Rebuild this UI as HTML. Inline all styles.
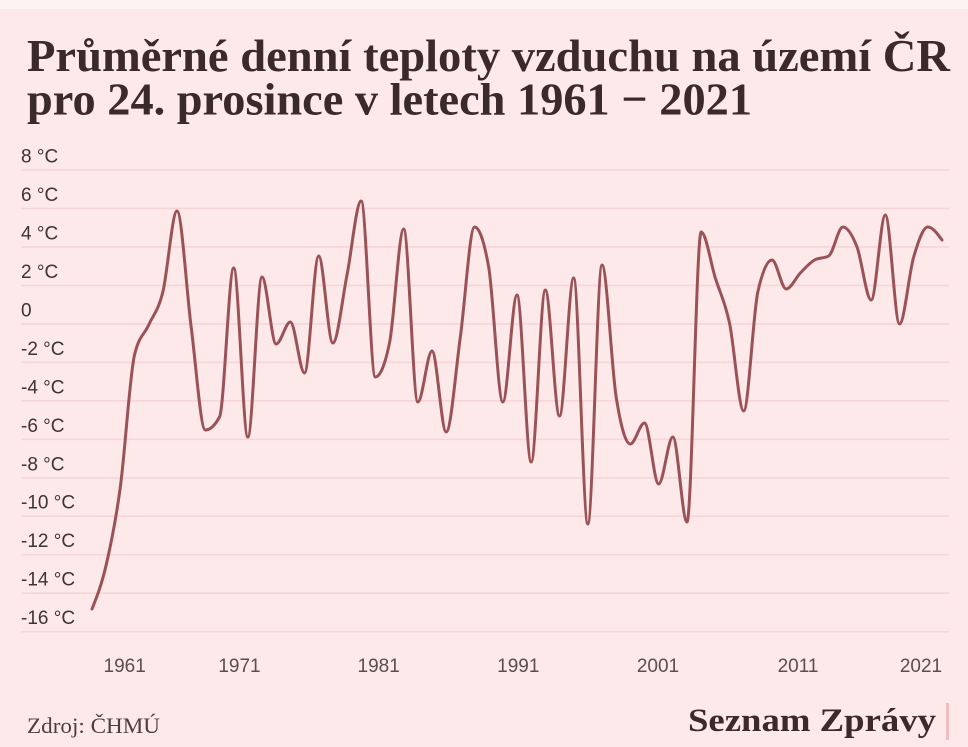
<!DOCTYPE html>
<html>
<head>
<meta charset="utf-8">
<style>
  html,body{margin:0;padding:0;width:968px;height:747px;overflow:hidden;background:#fde9ea;}
  svg{display:block;}
</style>
</head>
<body>
<svg id="chart" width="968" height="747" viewBox="0 0 968 747" xmlns="http://www.w3.org/2000/svg">
  <rect x="0" y="0" width="968" height="747" fill="#fde9ea"/>
  <rect x="0" y="0" width="968" height="9" fill="#fdf3f3"/>

  <!-- Title -->
  <text x="27" y="71" font-family="'Liberation Serif', serif" font-weight="bold" font-size="46" fill="#3a2a2b" textLength="923" lengthAdjust="spacingAndGlyphs">Průměrné denní teploty vzduchu na území ČR</text>
  <text x="27" y="114.5" font-family="'Liberation Serif', serif" font-weight="bold" font-size="46" fill="#3a2a2b" textLength="725" lengthAdjust="spacingAndGlyphs">pro 24. prosince v letech 1961 − 2021</text>

  <!-- Gridlines -->
  <g stroke="#f6d6d8" stroke-width="1.6">
    <line x1="21" x2="949" y1="170" y2="170"/>
    <line x1="21" x2="949" y1="208.5" y2="208.5"/>
    <line x1="21" x2="949" y1="246.9" y2="246.9"/>
    <line x1="21" x2="949" y1="285.4" y2="285.4"/>
    <line x1="21" x2="949" y1="323.9" y2="323.9"/>
    <line x1="21" x2="949" y1="362.3" y2="362.3"/>
    <line x1="21" x2="949" y1="400.8" y2="400.8"/>
    <line x1="21" x2="949" y1="439.3" y2="439.3"/>
    <line x1="21" x2="949" y1="477.8" y2="477.8"/>
    <line x1="21" x2="949" y1="516.2" y2="516.2"/>
    <line x1="21" x2="949" y1="554.7" y2="554.7"/>
    <line x1="21" x2="949" y1="593.2" y2="593.2"/>
    <line x1="21" x2="949" y1="631.7" y2="631.7"/>
  </g>

  <!-- Y labels -->
  <g font-family="'Liberation Sans', sans-serif" font-size="19" fill="#3d3435">
    <text x="21" y="162.5">8 °C</text>
    <text x="21" y="201">6 °C</text>
    <text x="21" y="239.4">4 °C</text>
    <text x="21" y="277.9">2 °C</text>
    <text x="21" y="316.4">0</text>
    <text x="21" y="354.8">-2 °C</text>
    <text x="21" y="393.3">-4 °C</text>
    <text x="21" y="431.8">-6 °C</text>
    <text x="21" y="470.3">-8 °C</text>
    <text x="21" y="508.7">-10 °C</text>
    <text x="21" y="547.2">-12 °C</text>
    <text x="21" y="585.7">-14 °C</text>
    <text x="21" y="624.2">-16 °C</text>
  </g>

  <!-- X labels -->
  <g font-family="'Liberation Sans', sans-serif" font-size="19" fill="#594e50" text-anchor="middle">
    <text x="124.7" y="672">1961</text>
    <text x="239.5" y="672">1971</text>
    <text x="378.7" y="672">1981</text>
    <text x="518.3" y="672">1991</text>
    <text x="658" y="672">2001</text>
    <text x="798" y="672">2011</text>
    <text x="921" y="672">2021</text>
  </g>

  <!-- Data line -->
  <path id="line" d="" fill="none" stroke="#9b5257" stroke-width="3" stroke-linejoin="round" stroke-linecap="round"/>

  <!-- Footer -->
  <text x="27" y="733" font-family="'Liberation Serif', serif" font-size="22" fill="#4a4041" textLength="133" lengthAdjust="spacingAndGlyphs">Zdroj: ČHMÚ</text>
  <text x="688" y="731" font-family="'Liberation Serif', serif" font-weight="bold" font-size="33" fill="#3a2a2b" textLength="248" lengthAdjust="spacingAndGlyphs">Seznam Zprávy</text>
  <rect x="946" y="703" width="3" height="37" fill="#f2bcc0"/>
</svg>
<script>
(function(){
  var ys=[609,565,487,355,325,292,211,327,430,417,268,437,277,344,322,373,256,343,275,201,
          377,343,229,402,351,432,337,227,267,402,295,462,290,416,278,524,265,397,444,423,
          484,437,522,232,278,323,411,292,260,289,273,260,256,227,247,300,215,324,257,227,240];
  var n=ys.length, x0=92, x1=942, step=(x1-x0)/(n-1);
  var xs=[];for(var i=0;i<n;i++)xs.push(x0+step*i);
  function sign(v){return v<0?-1:1;}
  var m=new Array(n);
  for(var i=1;i<n-1;i++){
    var h0=xs[i]-xs[i-1],h1=xs[i+1]-xs[i];
    var s0=(ys[i]-ys[i-1])/h0,s1=(ys[i+1]-ys[i])/h1;
    var p=(s0*h1+s1*h0)/(h0+h1);
    m[i]=(sign(s0)+sign(s1))*Math.min(Math.abs(s0),Math.abs(s1),0.5*Math.abs(p))||0;
  }
  var sA=(ys[1]-ys[0])/(xs[1]-xs[0]);
  m[0]=(3*sA-m[1])/2;
  var sB=(ys[n-1]-ys[n-2])/(xs[n-1]-xs[n-2]);
  m[n-1]=(3*sB-m[n-2])/2;
  var d="M"+xs[0].toFixed(2)+","+ys[0].toFixed(2);
  for(var i=0;i<n-1;i++){
    var dx=(xs[i+1]-xs[i])/3;
    d+="C"+(xs[i]+dx).toFixed(2)+","+(ys[i]+dx*m[i]).toFixed(2)+","+
         (xs[i+1]-dx).toFixed(2)+","+(ys[i+1]-dx*m[i+1]).toFixed(2)+","+
         xs[i+1].toFixed(2)+","+ys[i+1].toFixed(2);
  }
  document.getElementById("line").setAttribute("d",d);
})();
</script>
</body>
</html>
